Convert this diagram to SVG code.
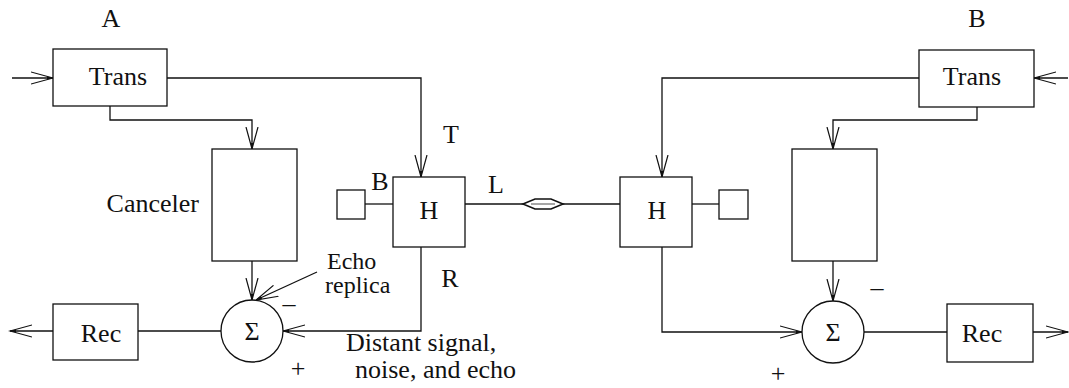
<svg xmlns="http://www.w3.org/2000/svg" width="1069" height="388" viewBox="0 0 1069 388">
<style>
.box{fill:#fff;stroke:#111;stroke-width:1.3}
.ln{fill:none;stroke:#111;stroke-width:1.3}
.t{font-family:"Liberation Serif","Times New Roman",serif;font-size:26px;fill:#111}
.s{font-size:24px}
.m{text-anchor:middle}
.e{text-anchor:end}
</style>
<defs>
<marker id="arr" markerUnits="userSpaceOnUse" viewBox="0 0 24 14" markerWidth="24" markerHeight="14" refX="22" refY="7" orient="auto">
<path d="M0,1 L22,7 L0,13" fill="none" stroke="#111" stroke-width="1.2"/>
<path d="M16,5.4 L22,7 L16,8.6 z" fill="#111"/>
</marker>
</defs>
<rect width="1069" height="388" fill="#fff"/>
<g id="connectors">
<path class="ln" d="M12,78 H53" marker-end="url(#arr)"/>
<path class="ln" d="M167,78 H421 V177" marker-end="url(#arr)"/>
<path class="ln" d="M110,106 V120 H252 V149" marker-end="url(#arr)"/>
<path class="ln" d="M252,261 V300" marker-end="url(#arr)"/>
<path class="ln" d="M317,272 L256,300" marker-end="url(#arr)"/>
<path class="ln" d="M421,247 V331 H283" marker-end="url(#arr)"/>
<path class="ln" d="M221,331 H138"/>
<path class="ln" d="M53,331 H10" marker-end="url(#arr)"/>
<path class="ln" d="M365,204 H393"/>
<path class="ln" d="M465,204 H524"/>
<path class="ln" d="M562,204 H620"/>
<path class="ln" d="M692,204 H719"/>
<path class="ln" d="M1068,78 H1034" marker-end="url(#arr)"/>
<path class="ln" d="M919,78 H662 V177" marker-end="url(#arr)"/>
<path class="ln" d="M977,107 V120 H833 V149" marker-end="url(#arr)"/>
<path class="ln" d="M833,261 V301" marker-end="url(#arr)"/>
<path class="ln" d="M662,247 V332 H802" marker-end="url(#arr)"/>
<path class="ln" d="M864,332 H947"/>
<path class="ln" d="M1033,332 H1068" marker-end="url(#arr)"/>
<polygon points="523,204 535,199 551,199 563,204 551,209 535,209" fill="#fff" stroke="#111" stroke-width="1.6"/>
<path d="M531,204 H555" stroke="#888" stroke-width="1.5"/>
</g>
<g id="transA">
<rect class="box" x="53" y="49" width="114" height="57"/>
<text class="t m" x="118" y="85">Trans</text>
</g>
<g id="labelA"><text class="t m" x="111" y="27">A</text></g>
<g id="cancelerA">
<rect class="box" x="212" y="149" width="85" height="112"/>
<text class="t e" x="199" y="212">Canceler</text>
</g>
<g id="sumA">
<circle class="box" cx="252" cy="331" r="31"/>
<text class="t m" x="252" y="340">Σ</text>
<text class="t m" x="289" y="312">–</text>
<text class="t m" x="298" y="377">+</text>
</g>
<g id="echoLabel">
<text class="t s" x="327" y="269">Echo</text>
<text class="t s" x="325" y="293">replica</text>
</g>
<g id="recA">
<rect class="box" x="53" y="304" width="85" height="56"/>
<text class="t m" x="101" y="342">Rec</text>
</g>
<g id="hybridA">
<rect class="box" x="393" y="177" width="72" height="70"/>
<text class="t m" x="429" y="219">H</text>
<text class="t m" x="451" y="143">T</text>
<text class="t m" x="380" y="190">B</text>
<text class="t m" x="496" y="193">L</text>
<text class="t m" x="450" y="287">R</text>
</g>
<g id="balanceA"><rect class="box" x="337" y="190" width="28" height="29"/></g>
<g id="distantLabel">
<text class="t" x="346" y="351">Distant signal,</text>
<text class="t" x="355" y="378">noise, and echo</text>
</g>
<g id="hybridB">
<rect class="box" x="620" y="177" width="72" height="70"/>
<text class="t m" x="657" y="219">H</text>
</g>
<g id="balanceB"><rect class="box" x="719" y="190" width="29" height="29"/></g>
<g id="transB">
<rect class="box" x="919" y="50" width="115" height="57"/>
<text class="t m" x="972" y="85">Trans</text>
</g>
<g id="labelB"><text class="t m" x="977" y="27">B</text></g>
<g id="cancelerB"><rect class="box" x="792" y="149" width="85" height="112"/></g>
<g id="sumB">
<circle class="box" cx="833" cy="332" r="31"/>
<text class="t m" x="833" y="341">Σ</text>
<text class="t m" x="877" y="296">–</text>
<text class="t m" x="778" y="382">+</text>
</g>
<g id="recB">
<rect class="box" x="947" y="304" width="86" height="58"/>
<text class="t m" x="982" y="342">Rec</text>
</g>
</svg>
